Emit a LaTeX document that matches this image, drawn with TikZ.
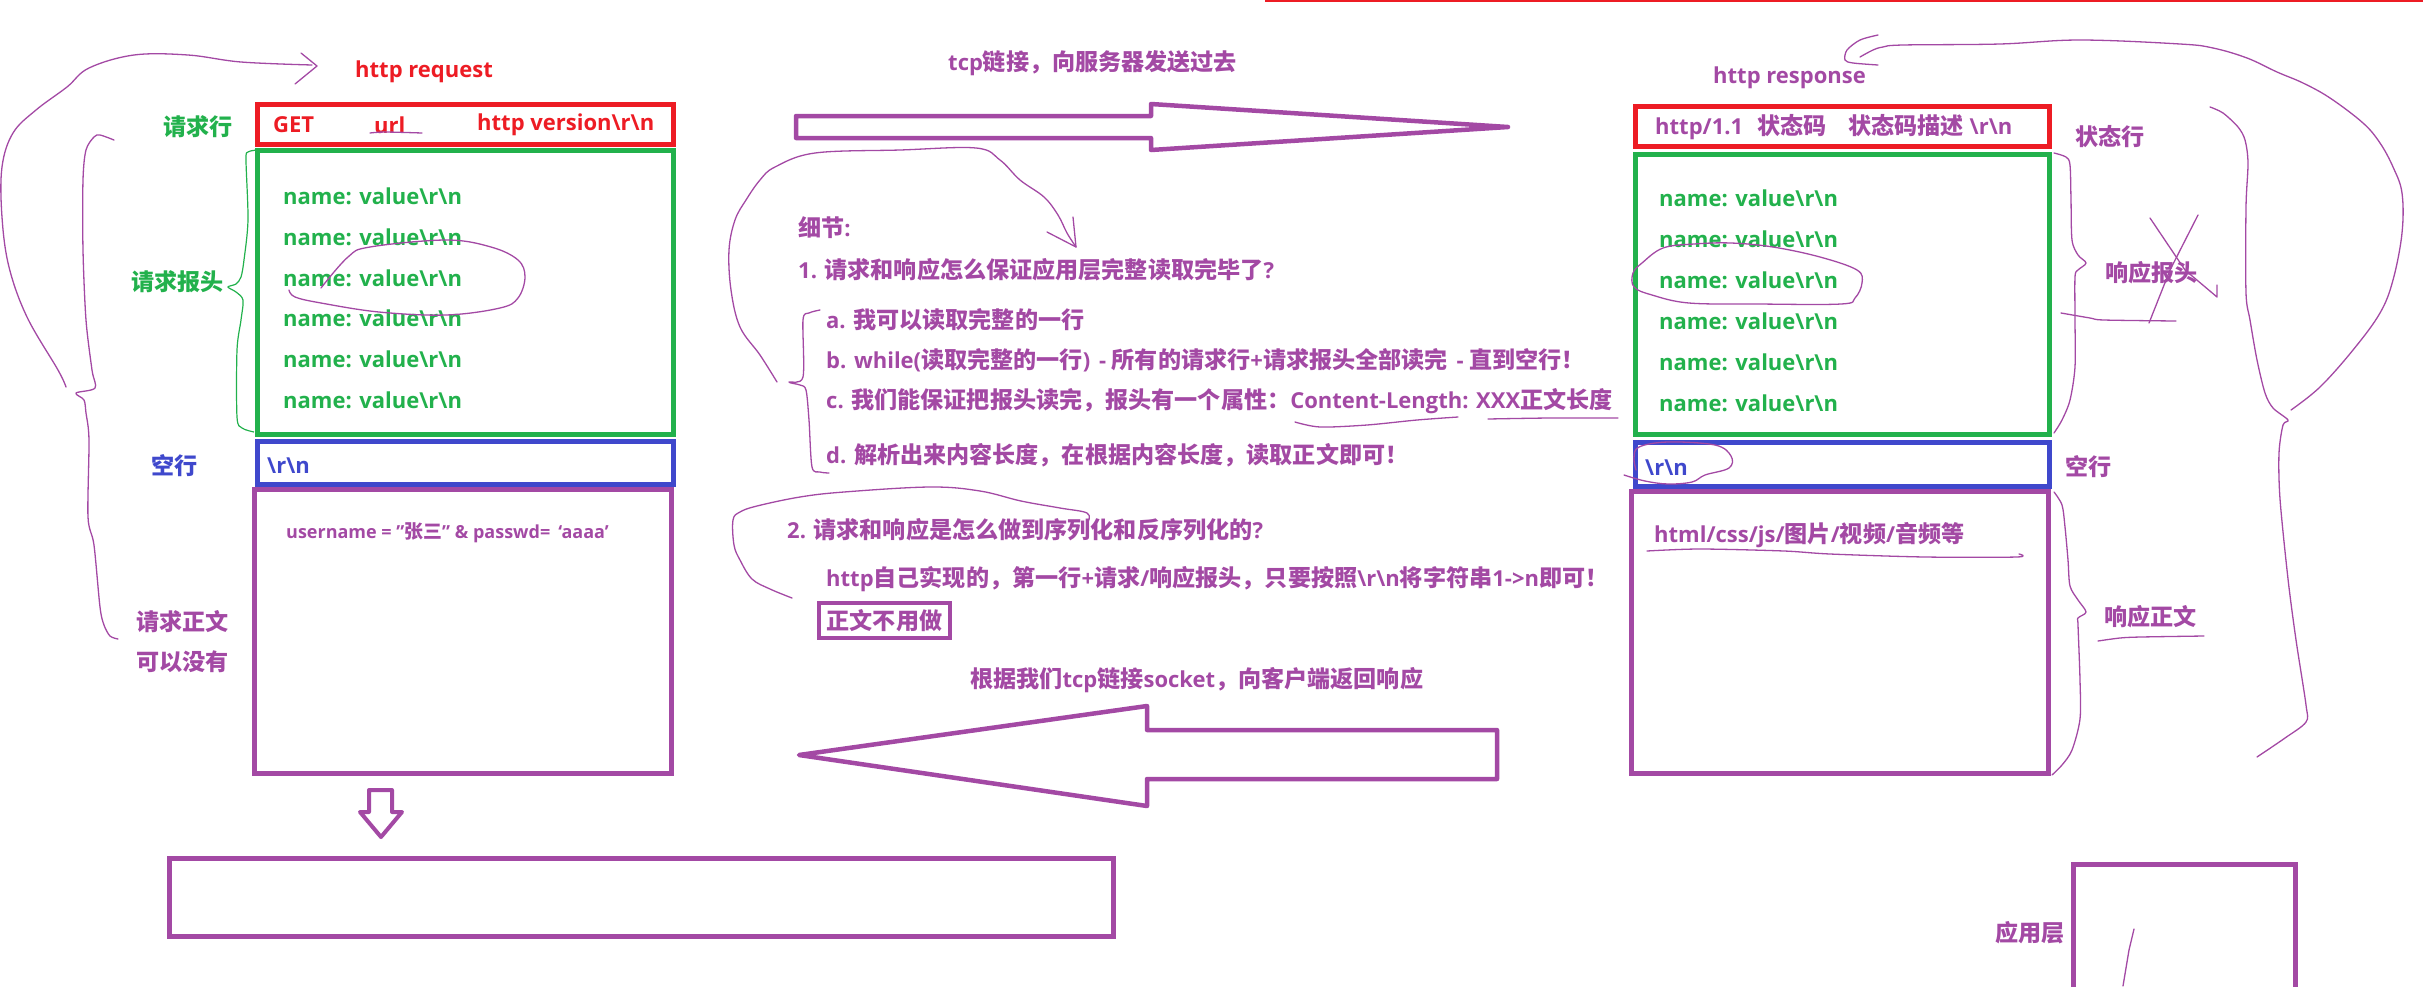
\documentclass[tikz,border=0pt]{standalone}
\usepackage{fontspec}
\setmainfont{Open Sans}
\newfontfamily\zhfont{Noto Sans CJK SC}[Scale=1.05]
\usetikzlibrary{positioning}

\definecolor{pRed}{HTML}{ED1C24}
\definecolor{pGreen}{HTML}{22B14C}
\definecolor{pBlue}{HTML}{3F48CC}
\definecolor{pPurple}{HTML}{A349A4}

\newcommand\sketchfont{\fontsize{22}{26}\selectfont\bfseries}
\newcommand\smallsketch{\fontsize{18}{21}\selectfont\bfseries}
\newcommand\rn{\textbackslash r\textbackslash n}

% switch to the CJK face around runs of Chinese characters
\newcount\zhcode
\zhcode="4E00
\loop
  \XeTeXcharclass\zhcode=1
  \advance\zhcode by 1
\ifnum\zhcode<"A000 \repeat
\XeTeXcharclass"FF0C=1
\XeTeXcharclass"FF1A=1
\XeTeXcharclass"FF01=1
\XeTeXcharclass"FF1F=1
\XeTeXinterchartokenstate=1
\XeTeXinterchartoks 0 1 = {\begingroup\zhfont}
\XeTeXinterchartoks 4095 1 = {\begingroup\zhfont}
\XeTeXinterchartoks 1 0 = {\endgroup}
\XeTeXinterchartoks 1 4095 = {\endgroup}

\begin{document}
\begin{tikzpicture}[
    x=1pt, y=-1pt,
    font=\sketchfont,
    frame/.style={
        rectangle,
        draw,
        line width=5pt,
        inner sep=0pt
    },
    txt/.style={anchor=west, inner sep=0pt},
    pen/.style={draw=pPurple, line width=1.3pt, line cap=round, line join=round},
    block/.style={draw=pPurple, line width=4.5pt, line join=round}
]
\useasboundingbox (0,0) rectangle (2423,986);

% request side
\node[frame, draw=pRed, minimum width=416pt, minimum height=40pt] (reqline) at (465.5,124.5) {};
\node[frame, draw=pGreen, minimum width=416pt, minimum height=284pt] (reqhead) at (465.5,292.5) {};
\node[frame, draw=pBlue, minimum width=416pt, minimum height=43pt] (reqblank) at (465.5,463) {};
\node[frame, draw=pPurple, minimum width=417pt, minimum height=284pt] (reqbody) at (463,631.5) {};
\node[frame, draw=pPurple, minimum width=944pt, minimum height=78pt] (stackbox) at (641.5,897.5) {};

\node[txt, pRed] (reqtitle) at (355,72) {http request};
\node[txt, pGreen] (reqlinetag) at (163,127) {请求行};
\node[txt, pGreen] (reqheadtag) at (131,282) {请求报头};
\node[txt, pBlue] (reqblanktag) at (151,466) {空行};
\node[txt, pPurple, align=center, font={\fontsize{22}{40}\selectfont\bfseries}] (reqbodytag) at (136,642) {请求正文\\可以没有};

\node[txt, pRed] (method) at (273,125) {GET};
\node[txt, pRed] (url) at (374,125) {url};
\node[txt, pRed] (version) at (477,125) {http version\rn};
\foreach \y [count=\i] in {196,237,278,318,359,400}
    \node[txt, pGreen] (reqfield\i) at (283,\y) {name: value\rn};
\node[txt, pBlue] (reqcrlf) at (267,466) {\rn};
\node[txt, pPurple, font=\smallsketch] (reqdata) at (286,533) {username = "张三" \& passwd=\hspace{8pt}‘aaaa’};

\draw[pen] plot[smooth, tension=0.6] coordinates {(66,387) (58,370) (27,317) (9,267) (2,217) (2,167) (13,133) (36,110) (67,87) (89,68) (134,55) (188,55) (241,62) (312,65)};
\draw[pen] (301,53) -- (317,66) -- (295,84);
\draw[pen] plot[smooth, tension=0.5] coordinates {(114,140) (100,135) (94,137) (86,150) (83,180) (83,250) (86,320) (92,370) (95,388) (76,393) (84,400) (86,413) (89,440) (88,517) (94,545) (100,607) (104,625) (110,636) (118,639)};
\draw[draw=pGreen, line width=1.2pt] plot[smooth, tension=0.5] coordinates {(257,150) (248,152) (246,160) (248,220) (244,260) (241,277) (236,284) (228,287) (236,292) (243,300) (241,320) (237,350) (237,417) (242,428) (254,432)};
\draw[pen] plot[smooth, tension=0.6] coordinates {(321,288) (348,257) (370,247) (446,240) (491,247) (518,260) (525,277) (518,298) (500,308) (446,315) (379,312) (321,303) (295,297) (289,290)};
\draw[pen] plot[smooth] coordinates {(370,133) (385,132) (422,133)};

% transfer arrows
\draw[block] (796,116) -- (1151,116) -- (1151,104) -- (1508,127) -- (1151,150) -- (1151,138) -- (796,138) -- cycle;
\draw[block] (1497,730) -- (1147,730) -- (1147,706) -- (799,755) -- (1147,806) -- (1147,779) -- (1497,779) -- cycle;
\draw[block, line width=4pt] (369,790) -- (392,790) -- (392,812) -- (402,812) -- (381,837) -- (360,812) -- (369,812) -- cycle;

\node[txt, pPurple] (sendtag) at (948,63) {tcp链接，向服务器发送过去};
\node[txt, pPurple] (replytag) at (970,680) {根据我们tcp链接socket，向客户端返回响应};

% notes in the middle
\node[txt, pPurple] (detail) at (798,228) {细节:};
\node[txt, pPurple] (q1) at (798,270) {1. 请求和响应怎么保证应用层完整读取完毕了?};
\node[txt, pPurple] (q1a) at (826,320) {a. 我可以读取完整的一行};
\node[txt, pPurple] (q1b) at (826,360) {b. while(读取完整的一行)\hspace{3pt} - 所有的请求行+请求报头全部读完\hspace{3pt} - 直到空行！};
\node[txt, pPurple] (q1c) at (826,401) {c. 我们能保证把报头读完，报头有一个属性：Content-Length: XXX正文长度};
\node[txt, pPurple] (q1d) at (826,455) {d. 解析出来内容长度，在根据内容长度，读取正文即可！};
\node[txt, pPurple] (q2) at (787,530) {2. 请求和响应是怎么做到序列化和反序列化的?};
\node[txt, pPurple] (q2ans) at (826,579) {http自己实现的，第一行+请求/响应报头，只要按照\rn 将字符串1->n即可！};
\node[frame, draw=pPurple, line width=4pt, minimum width=131pt, minimum height=35pt, text=pPurple] (nobody) at (884.5,620.5) {正文不用做};

\draw[pen] plot[smooth, tension=0.6] coordinates {(777,382) (760,355) (740,327) (731,290) (729,250) (735,220) (746,200) (760,180) (775,167) (815,153) (900,150) (976,148) (1000,160) (1020,180) (1044,197) (1058,215) (1067,233) (1076,247)};
\draw[pen] (1047,232) -- (1076,247) -- (1073,217);
\draw[pen] plot[smooth, tension=0.5] coordinates {(820,310) (809,313) (803,320) (803,377) (789,382) (800,385) (806,390) (809,420) (812,467) (820,472) (829,473)};
\draw[pen] plot[smooth] coordinates {(1295,422) (1320,427) (1367,425) (1417,420) (1458,417)};
\draw[pen] plot[smooth] coordinates {(1488,419) (1550,418) (1618,418)};
\draw[pen] plot[smooth, tension=0.6] coordinates {(792,598) (770,589) (752,579) (740,560) (734,545) (733,520) (740,512) (757,506) (800,497) (844,492) (930,487) (980,491) (1021,501) (1060,508) (1087,513) (1088,522)};

% response side
\draw[draw=pRed, line width=2pt] (1265,1) -- (2423,1);
\node[frame, draw=pRed, minimum width=414pt, minimum height=40pt] (resline) at (1842.5,126.5) {};
\node[frame, draw=pGreen, minimum width=414pt, minimum height=280pt] (reshead) at (1842.5,294.5) {};
\node[frame, draw=pBlue, minimum width=414pt, minimum height=44pt] (resblank) at (1842.5,464.5) {};
\node[frame, draw=pPurple, minimum width=417pt, minimum height=282pt] (resbody) at (1840,632.5) {};
\draw[draw=pPurple, line width=5pt] (2073.5,990) |- (2295.5,864.5) -- (2295.5,990);

\node[txt, pPurple] (restitle) at (1713,78) {http response};
\node[txt, pPurple] (status) at (1655,127) {http/1.1\hspace{14pt}状态码\hspace{22pt}状态码描述 \rn};
\node[txt, pPurple] (reslinetag) at (2075,137) {状态行};
\foreach \y [count=\i] in {198,239,280,321,362,403}
    \node[txt, pGreen] (resfield\i) at (1659,\y) {name: value\rn};
\node[txt, pPurple] (resheadtag) at (2105,273) {响应报头};
\node[txt, pBlue] (rescrlf) at (1645,468) {\rn};
\node[txt, pPurple] (resblanktag) at (2065,467) {空行};
\node[txt, pPurple] (resdata) at (1654,535) {html/css/js/图片/视频/音频等};
\node[txt, pPurple] (resbodytag) at (2104,617) {响应正文};
\node[txt, pPurple] (apptag) at (1995,933) {应用层};

\draw[pen] plot[smooth cycle, tension=0.6] coordinates {(1731,243) (1773,247) (1820,257) (1857,270) (1862,283) (1855,298) (1841,304) (1757,304) (1689,303) (1652,295) (1634,287) (1633,273) (1642,263) (1663,248) (1694,244)};
\draw[pen] plot[smooth, tension=0.6] coordinates {(1624,475) (1645,481) (1668,484) (1692,482) (1705,475) (1729,468) (1731,456) (1715,445) (1668,442) (1639,447) (1634,458) (1636,470)};
\draw[pen] plot[smooth, tension=0.5] coordinates {(2054,153) (2066,157) (2070,165) (2071,200) (2072,240) (2078,255) (2086,263) (2078,270) (2075,277) (2075,320) (2075,367) (2070,400) (2062,420) (2054,433)};
\draw[pen] plot[smooth, tension=0.5] coordinates {(2054,492) (2062,505) (2065,527) (2068,560) (2070,586) (2078,600) (2086,612) (2078,618) (2078,625) (2080,680) (2080,719) (2072,750) (2062,765) (2052,775)};
\draw[pen] (2150,218) -- (2185,270) -- (2217,297) -- (2217,285);
\draw[pen] (2198,215) -- (2170,270) -- (2149,323);
\draw[pen] plot[smooth] coordinates {(2061,313) (2090,318) (2104,320) (2176,321)};
\draw[pen] plot[smooth] coordinates {(1647,551) (1700,549) (1784,551) (1830,554) (1925,557) (2017,557) (2019,554)};
\draw[pen] plot[smooth] coordinates {(2098,641) (2120,638) (2141,637) (2204,636)};
\draw[pen] (2134,929) -- (2129,950) -- (2123,986);
\draw[pen] plot[smooth, tension=0.5] coordinates {(2210,107) (2223,113) (2238,127) (2245,140) (2248,163) (2246,207) (2246,293) (2250,320) (2257,360) (2265,393) (2273,408) (2288,420) (2283,425) (2279,453) (2280,499) (2288,579) (2296,640) (2306,705) (2306,722) (2285,738) (2257,757)};
\draw[pen] plot[smooth, tension=0.6] coordinates {(2291,410) (2320,387) (2353,350) (2380,313) (2393,280) (2402,233) (2402,193) (2393,167) (2380,143) (2363,123) (2330,98) (2303,83) (2277,72) (2247,58) (2213,48) (2180,44) (2080,40) (2000,44) (1903,45) (1883,47) (1873,50) (1860,57)};
\draw[pen] plot[smooth] coordinates {(1878,35) (1860,40) (1847,50) (1845,60) (1853,63) (1878,65)};
\end{tikzpicture}
\end{document}
